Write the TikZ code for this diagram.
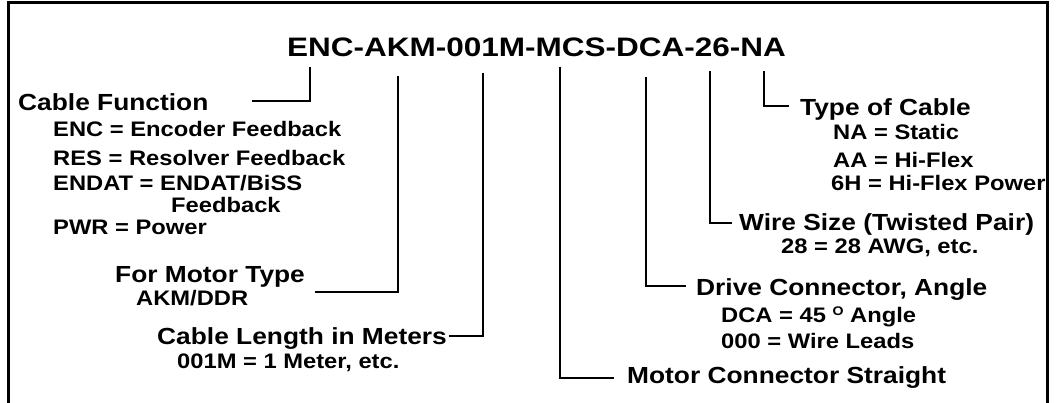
\documentclass[tikz,border=0pt]{standalone}
\usepackage{fontspec}
\setmainfont{Liberation Sans}[FakeStretch=1.13]
\newfontfamily\titlefont{Liberation Sans}[FakeStretch=1.18]
\begin{document}
\begin{tikzpicture}[x=1pt,y=-1pt,
  hd/.style={anchor=base west,inner sep=0pt,font=\fontsize{23.3}{26}\selectfont\bfseries},
  sub/.style={anchor=base west,inner sep=0pt,font=\fontsize{21}{24}\selectfont\bfseries},
  ttl/.style={anchor=base west,inner sep=0pt,font=\titlefont\fontsize{26.7}{30}\selectfont\bfseries},
  leader/.style={line width=2pt,line join=miter},
  borderline/.style={line width=2.5pt,line join=miter}]
\useasboundingbox (0,0) rectangle (1059,402);
% frame
\coordinate (bl) at (8.5,403);
\coordinate (tl) at (8.5,2.5);
\coordinate (tr) at (1047.5,2.5);
\coordinate (br) at (1047.5,403);
\draw[borderline] (bl) -- (tl) -- (tr) -- (br);
% title
\node[ttl] (title) at (287,56.5) {ENC-AKM-001M-MCS-DCA-26-NA};
% left group
\node[hd] (cf) at (18,110) {Cable Function};
\node[sub] (enc) at (53,136.7) {ENC = Encoder Feedback};
\node[sub] (res) at (53,165) {RES = Resolver Feedback};
\node[sub] (endat) at (53,190.5) {ENDAT = ENDAT/BiSS};
\node[sub] (fb) at (171,212.3) {Feedback};
\node[sub] (pwr) at (53,234.3) {PWR = Power};
\node[hd] (mt) at (115,282.3) {For Motor Type};
\node[sub] (akm) at (136,305.7) {AKM/DDR};
\node[hd] (cl) at (157,344) {Cable Length in Meters};
\node[sub] (clv) at (177,368.3) {001M = 1 Meter, etc.};
% right group
\node[hd] (tc) at (800,115) {Type of Cable};
\node[sub] (na) at (833,139) {NA = Static};
\node[sub] (aa) at (833,167.3) {AA = Hi-Flex};
\node[sub] (sixh) at (831,190.7) {6H = Hi-Flex Power};
\node[hd] (ws) at (739,230) {Wire Size (Twisted Pair)};
\node[sub] (awg) at (781,253.3) {28 = 28 AWG, etc.};
\node[hd] (dc) at (696,295) {Drive Connector, Angle};
\node[sub] (dca) at (721,322) {DCA = 45 \raisebox{7pt}{\fontsize{12.5}{13}\selectfont O} Angle};
\node[sub] (ww) at (721,348.5) {000 = Wire Leads};
\node[hd] (mc) at (627,383.3) {Motor Connector Straight};
% leader coordinates
\coordinate (a1) at (310,66.7);   \coordinate (a2) at (252,101);
\coordinate (b1) at (397.7,75.7); \coordinate (b2) at (315,291.7);
\coordinate (c1) at (482.7,73.3); \coordinate (c2) at (449,336);
\coordinate (d1) at (560,66.7);   \coordinate (d2) at (614,378.3);
\coordinate (e1) at (645.7,76.7); \coordinate (e2) at (685.7,286);
\coordinate (f1) at (710,71);     \coordinate (f2) at (732.3,222.7);
\coordinate (g1) at (764,71);     \coordinate (g2) at (789,106);
\draw[leader] (a1) |- (a2);
\draw[leader] (b1) |- (b2);
\draw[leader] (c1) |- (c2);
\draw[leader] (d1) |- (d2);
\draw[leader] (e1) |- (e2);
\draw[leader] (f1) |- (f2);
\draw[leader] (g1) |- (g2);
\end{tikzpicture}
\end{document}
